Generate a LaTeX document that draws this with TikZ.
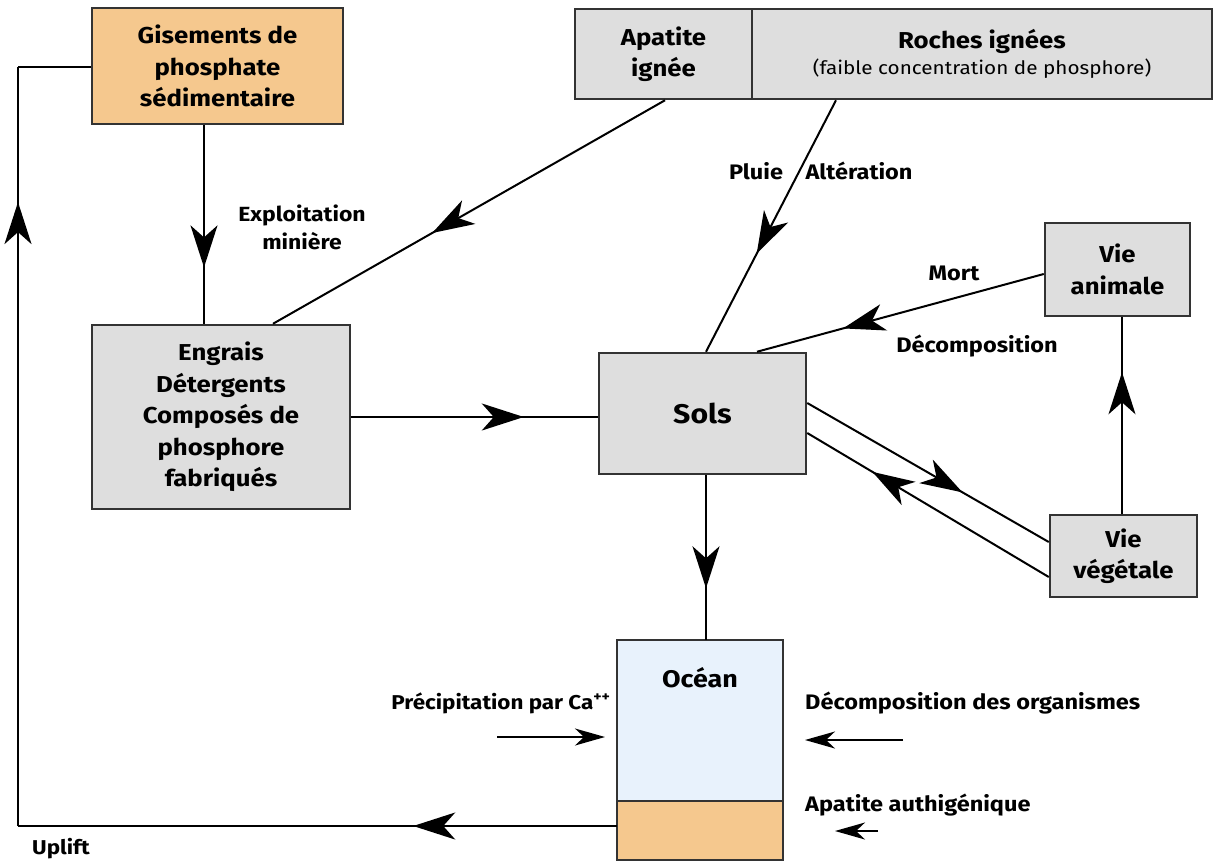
\documentclass[tikz,border=0pt]{standalone}
\usepackage{fontspec}
\setmainfont{Fira Sans}[FakeStretch=1.12]
\usetikzlibrary{arrows.meta,decorations.markings,calc}
\definecolor{boxgray}{HTML}{DEDEDE}
\definecolor{sediment}{HTML}{F5C88E}
\definecolor{water}{HTML}{E8F2FC}
\definecolor{edge}{HTML}{333333}
\tikzset{
  box/.style={draw=edge, line width=2.5pt, fill=boxgray, align=center, inner sep=0pt, font=\fontsize{23}{31.5}\selectfont\bfseries},
  lbl/.style={font=\fontsize{21}{28}\selectfont\bfseries, align=center, inner sep=0pt},
  flow/.style={line width=2pt, draw=black},
  bigtip/.tip={Stealth[length=42pt, width=27pt, inset=12pt]},
  smalltip/.tip={Stealth[length=30pt, width=17pt, inset=9pt]},
  arrowat/.style={postaction={decorate}, decoration={markings, mark=at position #1 with {\arrow{bigtip}}}},
}
\begin{document}
\begin{tikzpicture}[x=1pt, y=-1pt]
\useasboundingbox (0,0) rectangle (1216,863);

% boxes
\node[box, fill=sediment, minimum width=251pt, minimum height=116pt] (gis) at (217.5,66) {Gisements de\\phosphate\\sédimentaire};
\node[box, minimum width=177pt, minimum height=90pt] (apa) at (663.5,54) {Apatite\\ignée};
\node[box, minimum width=460pt, minimum height=90pt] (roc) at (982,54) {Roches ignées\\[-5pt]{\fontsize{18.5}{20}\selectfont\mdseries (faible concentration de phosphore)}};
\node[box, minimum width=258pt, minimum height=184pt] (eng) at (221,417) {Engrais\\Détergents\\Composés de\\phosphore\\fabriqués};
\node[box, minimum width=207pt, minimum height=121pt, font=\fontsize{27}{30}\selectfont\bfseries] (sols) at (702.5,413.5) {Sols};
\node[box, minimum width=145pt, minimum height=93pt] (ani) at (1117.5,269.5) {Vie\\animale};
\node[box, minimum width=147pt, minimum height=82pt] (veg) at (1123.5,556) {Vie\\végétale};

% ocean
\node[draw=none, fill=water, minimum width=166pt, minimum height=220pt, inner sep=0pt] (oce) at (700,750) {};
\fill[sediment] (oce.south west) rectangle ([yshift=59pt]oce.south east);
\draw[edge, line width=2pt] ([yshift=59pt]oce.south west) -- ([yshift=59pt]oce.south east);
\draw[edge, line width=2.5pt] (oce.south west) rectangle (oce.north east);
\node[lbl, font=\fontsize{24}{28}\selectfont\bfseries, anchor=base] (ocet) at (700,687) {Océan};

% connectors
\draw[flow, arrowat=0.716] ([xshift=-13.5pt]gis.south) -- ([xshift=-17pt]eng.north);
\draw[flow, arrowat=0.594] ([xshift=1.5pt]apa.south) -- ([xshift=52pt]eng.north);
\draw[flow, arrowat=0.61] ([xshift=-146pt]roc.south) -- ([xshift=3.5pt]sols.north);
\draw[flow, arrowat=0.70] ([yshift=-4.5pt]ani.west) -- ([xshift=54.5pt]sols.north);
\draw[flow, arrowat=0.72] ([xshift=-1.5pt]veg.north) -- ([xshift=4.5pt]ani.south);
\draw[flow, arrowat=0.643] ([yshift=10.5pt]sols.east) -- ([yshift=14pt]veg.west);
\draw[flow, arrowat=0.73] ([yshift=-21pt]veg.west) -- ([yshift=-19.5pt]sols.east);
\draw[flow, arrowat=0.70] (eng.east) -- (eng.east -| sols.west);
\draw[flow, arrowat=0.687] ([xshift=3.5pt]sols.south) -- ([xshift=6pt]oce.north);

% uplift loop
\coordinate (bl) at (18,826);
\coordinate (tl) at (18,67);
\draw[flow, arrowat=0.34] (oce.west |- bl) -- (bl);
\draw[flow, arrowat=0.822] (bl) -- (tl);
\draw[flow] (tl) -- (gis.west |- tl);

% side arrows at ocean
\coordinate (pa) at (497,737);
\coordinate (pb) at (605,737);
\coordinate (da) at (903,740);
\coordinate (db) at (805,740);
\coordinate (aa) at (878,831);
\coordinate (ab) at (835,831);
\draw[flow, -{smalltip}] (pa) -- (pb);
\draw[flow, -{smalltip}] (da) -- (db);
\draw[flow, -{smalltip}] (aa) -- (ab);

% labels
\node[lbl, font=\fontsize{20.5}{28}\selectfont\bfseries] (expl) at (302,227) {Exploitation\\minière};
\node[lbl] (pluie) at (756,171) {Pluie};
\node[lbl] (alt) at (859,171) {Altération};
\node[lbl] (mort) at (954,273) {Mort};
\node[lbl] (dec) at (977,346) {Décomposition};
\node[lbl, font=\fontsize{20}{28}\selectfont\bfseries] (prec) at (501,703) {Précipitation par Ca\textsuperscript{++}};
\node[lbl, anchor=west] (decorg) at (805,703) {Décomposition des organismes};
\node[lbl, anchor=west] (apaut) at (805,805) {Apatite authigénique};
\node[lbl, anchor=west, font=\fontsize{20}{22}\selectfont\bfseries] (upl) at (32,849) {Uplift};
\end{tikzpicture}
\end{document}
